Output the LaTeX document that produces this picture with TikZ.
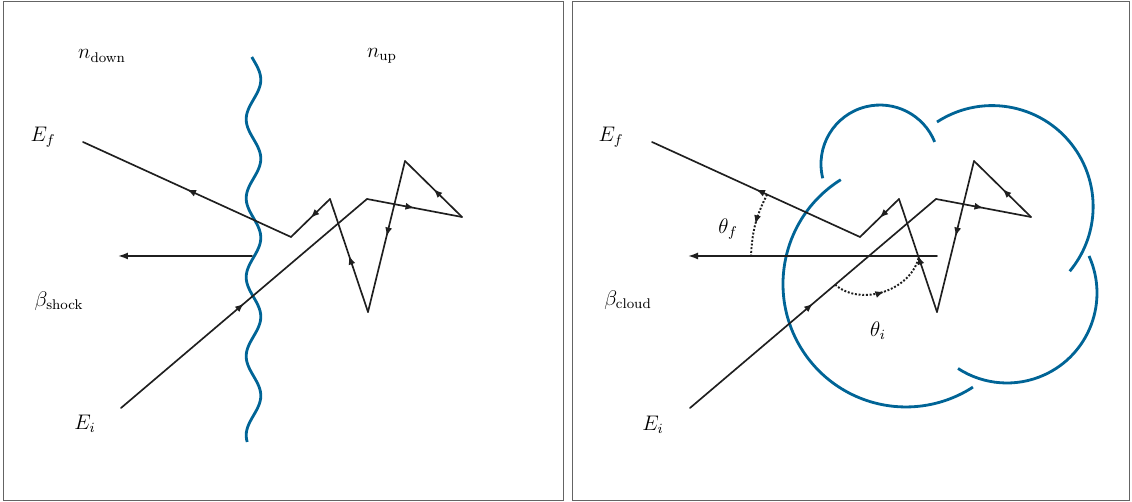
\documentclass[tikz,border=0pt]{standalone}
\usepackage{tikz}
\usetikzlibrary{arrows.meta,decorations.markings,calc}
\definecolor{wallblue}{RGB}{0,100,150}
\definecolor{panelgray}{RGB}{100,100,100}

\begin{document}
\begin{tikzpicture}[x=0.02cm, y=0.02cm, every node/.style={font=\fontsize{11.5}{13}\selectfont}, ray/.style={line width=0.95pt,black!88,line cap=round,line join=round}, midarr/.style={decoration={markings,mark=at position 0.5 with {\arrow{Latex[length=1.8mm,width=1.4mm]}}},postaction={decorate}}, wall/.style={wallblue,line width=1.6pt}, panel/.style={draw=panelgray,line width=0.55pt}, ang/.style={densely dotted,line width=1.1pt,black!88,midarr}, vel/.style={ray,-{Latex[length=2mm,width=1.4mm]}}]
\useasboundingbox (0,0) rectangle (1132,502);
\draw[panel] (3,2) rectangle (563,501);
\draw[panel] (572,2) rectangle (1129,501);
% shock
\draw[wall] plot[domain=57:442,samples=160,smooth,variable=\t] ({253.5+7.3*sin(4.557*(\t-60))},{502-\t});
\coordinate (a0) at (121,94);
\coordinate (a1) at (367,303);
\coordinate (a2) at (462,285);
\coordinate (a3) at (405,341);
\coordinate (a4) at (368,190);
\coordinate (a5) at (330,303);
\coordinate (a6) at (291,265);
\coordinate (a7) at (83,360);
\foreach \s/\e in {a0/a1,a1/a2,a2/a3,a3/a4,a4/a5,a5/a6,a6/a7}
  \draw[ray,midarr] (\s) -- (\e);
\coordinate (as) at (252,246);
\coordinate (ab) at (118,246);
\draw[vel] (as) -- (ab);
\node (ndown) at (102,446) {$n_{\mathrm{down}}$};
\node (nup) at (382,446) {$n_{\mathrm{up}}$};
\node (aEf) at (43,365) {$E_f$};
\node (abeta) at (59,201) {$\beta_{\mathrm{shock}}$};
\node (aEi) at (85,78) {$E_i$};
% cloud
\draw[wall] (822.75,323.7) arc[start angle=194,end angle=22,radius=1.18cm];
\draw[wall] (937,380) arc[start angle=123.1,end angle=-39.8,radius=2.02cm];
\draw[wall] (1089,246) arc[start angle=24.3,end angle=-123,radius=1.8cm];
\draw[wall] (840.8,322.3) arc[start angle=122,end angle=303,radius=2.46cm];
\coordinate (b0) at (690,94);
\coordinate (b1) at (936,303);
\coordinate (b2) at (1031,285);
\coordinate (b3) at (974,341);
\coordinate (b4) at (937,190);
\coordinate (b5) at (899,303);
\coordinate (b6) at (860,265);
\coordinate (b7) at (652,360);
\foreach \s/\e in {b0/b1,b1/b2,b2/b3,b3/b4,b4/b5,b5/b6,b6/b7}
  \draw[ray,midarr] (\s) -- (\e);
\coordinate (bs) at (937,246);
\coordinate (bb) at (688,246);
\draw[vel] (bs) -- (bb);
\coordinate (tf1) at ($(b6)!0.447!(b7)$);
\coordinate (tf2) at (751,246);
\coordinate (ti1) at ($(b0)!0.59!(b1)$);
\coordinate (ti2) at (919,246);
\draw[ang] (tf1) to[bend right=12] (tf2);
\draw[ang] (ti1) to[bend right=60] (ti2);
\node (bEf) at (611,365) {$E_f$};
\node (bbeta) at (628,202) {$\beta_{\mathrm{cloud}}$};
\node (bEi) at (653,77) {$E_i$};
\node (thf) at (728,273) {$\theta_f$};
\node (thi) at (878,171) {$\theta_i$};
\end{tikzpicture}
\end{document}
